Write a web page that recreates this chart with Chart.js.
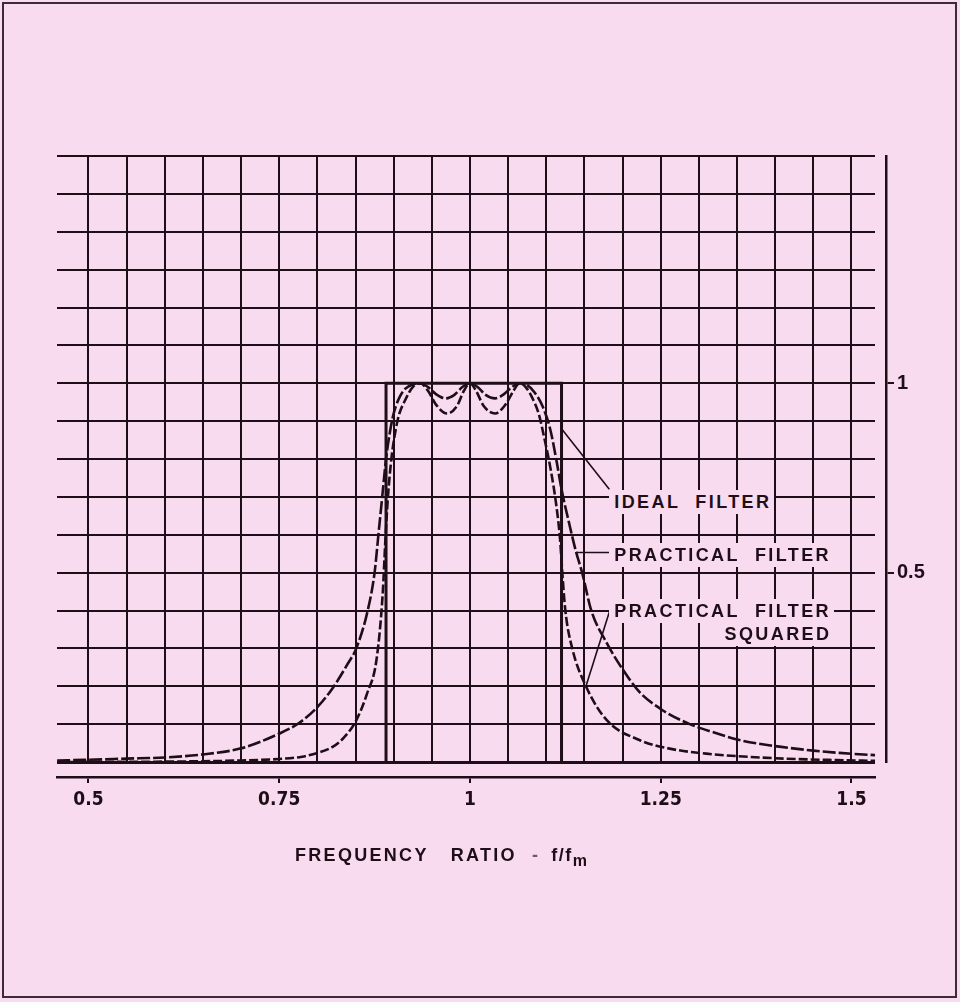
<!DOCTYPE html>
<html>
<head>
<meta charset="utf-8">
<script src="https://cdn.jsdelivr.net/npm/chart.js@4.4.1/dist/chart.umd.min.js"></script>
<style>
html,body{margin:0;padding:0;background:#f9dbef;}
#wrap{position:relative;width:960px;height:1002px;overflow:hidden;background:#f9dbef;}
#frame{position:absolute;left:2px;top:2px;width:951px;height:992px;border:2px solid #3c2a36;pointer-events:none;}
#c{position:absolute;left:0;top:0;}
.lbl{position:absolute;font-family:"Liberation Sans",Arial,sans-serif;font-weight:bold;font-size:18px;letter-spacing:2.4px;word-spacing:8px;color:#1e0e18;background:#f9dbef;line-height:24px;height:24px;padding:0 3px 0 5px;white-space:nowrap;}
#xtitle{position:absolute;left:295px;top:843px;font-family:"Liberation Sans",Arial,sans-serif;font-weight:bold;font-size:18px;letter-spacing:2.3px;line-height:24px;color:#1e0e18;white-space:nowrap;}
#xtitle span{display:inline-block;}
#xtitle sub{font-size:16px;vertical-align:-5px;letter-spacing:0;}
</style>
</head>
<body>
<div id="wrap">
<canvas id="c" width="960" height="1002"></canvas>
<div class="lbl" id="lblIdeal">IDEAL FILTER</div>
<div class="lbl" id="lblPract">PRACTICAL FILTER</div>
<div class="lbl" id="lblSq1">PRACTICAL FILTER</div>
<div class="lbl" id="lblSq2">SQUARED</div>
<div id="xtitle"><span>FREQUENCY</span><span style="margin-left:22px">RATIO</span><span style="margin-left:15px;color:#6b5a66">-</span><span style="margin-left:11px;letter-spacing:1.5px">f/f<sub>m</sub></span></div>
<div id="frame"></div>
</div>
<script>
// ---- data ----
const xGridTicks = [0.5,0.55,0.6,0.65,0.7,0.75,0.8,0.85,0.9,0.95,1.0,1.05,1.1,1.15,1.2,1.25,1.3,1.35,1.4,1.45,1.5];
const yGridTicks = [0,0.1,0.2,0.3,0.4,0.5,0.6,0.7,0.8,0.9,1.0,1.1,1.2,1.3,1.4,1.5,1.6];
const xTickValues = [0.5,0.75,1,1.25,1.5];
const xTickLabels = ['0.5','0.75','1','1.25','1.5'];
const yTickValues = [0.5,1];
const yTickLabels = ['0.5','1'];

const idealX = [0.89,0.89,1.12,1.12];
const idealY = [0,1,1,0];

const practicalX = [0.459,0.50,0.55,0.60,0.65,0.70,0.75,0.776,0.80,0.82,0.84,0.851,0.866,0.875,0.880,0.885,0.890,0.895,0.900,0.907,0.915,0.925,0.935,0.945,0.955,0.968,0.98,0.99,1.0,1.01,1.02,1.033,1.045,1.055,1.065,1.075,1.085,1.095,1.105,1.113,1.12,1.13,1.139,1.147,1.159,1.179,1.2,1.222,1.25,1.288,1.32,1.353,1.4,1.45,1.484,1.531];
const practicalY = [0.004,0.006,0.009,0.012,0.02,0.036,0.075,0.103,0.145,0.195,0.26,0.30,0.40,0.50,0.60,0.70,0.80,0.87,0.92,0.96,0.985,0.997,1.0,0.99,0.972,0.96,0.97,0.99,1.0,0.99,0.97,0.96,0.972,0.99,1.0,0.995,0.975,0.94,0.88,0.80,0.72,0.63,0.555,0.50,0.40,0.315,0.245,0.185,0.14,0.10,0.078,0.058,0.042,0.03,0.024,0.018];

const squaredX = [0.459,0.55,0.60,0.65,0.70,0.75,0.78,0.80,0.82,0.835,0.851,0.865,0.8775,0.8855,0.8895,0.8925,0.897,0.9055,0.915,0.925,0.935,0.945,0.955,0.97,0.983,0.992,1.0,1.008,1.018,1.033,1.047,1.057,1.065,1.073,1.082,1.09,1.098,1.106,1.113,1.118,1.121,1.125,1.134,1.152,1.179,1.222,1.26,1.31,1.4,1.48,1.531];
const squaredY = [0.0,0.0005,0.001,0.002,0.004,0.008,0.014,0.024,0.04,0.065,0.11,0.18,0.27,0.44,0.60,0.70,0.80,0.905,0.955,0.99,1.0,0.98,0.945,0.92,0.94,0.98,1.0,0.98,0.94,0.92,0.945,0.98,1.0,0.99,0.96,0.92,0.85,0.77,0.68,0.59,0.50,0.40,0.30,0.20,0.111,0.058,0.036,0.022,0.010,0.005,0.003];

// leader lines from the curves to the labels
const leaderIdealX = [1.12,1.1826];
const leaderIdealY = [0.88,0.72];
const leaderPractX = [1.139,1.1826];
const leaderPractY = [0.553,0.553];
const leaderSqX = [1.152,1.1848];
const leaderSqY = [0.20,0.41];

// label anchors (data units): left edge / vertical cap centre
const labelAnchors = [
  {id:'lblIdeal', x:1.1826, y:0.687},
  {id:'lblPract', x:1.1826, y:0.547},
  {id:'lblSq1',   x:1.1826, y:0.40},
  {id:'lblSq2',   xr:1.4775, y:0.339}
];

// ---- chart ----
const INK = '#1e0e18';
const X_MIN = 0.4588, X_MAX = 1.5308;
const pts = (xs, ys) => xs.map((x,i)=>({x:x, y:ys[i]}));
Chart.defaults.font.family = "'Liberation Sans', Arial, sans-serif";
Chart.defaults.color = INK;

const lineDs = (data, extra) => Object.assign({
  data: data, borderColor: INK, backgroundColor: INK, borderWidth: 2.6,
  pointRadius: 0, fill: false, tension: 0, xAxisID: 'x', yAxisID: 'y'
}, extra);

const chart = new Chart(document.getElementById('c'), {
  type: 'line',
  data: {
    datasets: [
      lineDs(pts(idealX, idealY), {label:'Ideal filter', borderWidth: 3}),
      lineDs(pts(practicalX, practicalY), {label:'Practical filter', borderDash:[13,3], cubicInterpolationMode:'monotone'}),
      lineDs(pts(squaredX, squaredY), {label:'Practical filter squared', borderDash:[9,3], cubicInterpolationMode:'monotone'}),
      lineDs(pts(leaderIdealX, leaderIdealY), {label:'leader1', borderWidth: 1.6}),
      lineDs(pts(leaderPractX, leaderPractY), {label:'leader2', borderWidth: 1.6}),
      lineDs(pts(leaderSqX, leaderSqY), {label:'leader3', borderWidth: 1.6})
    ]
  },
  options: {
    responsive: false,
    animation: false,
    events: [],
    layout: {padding: {left: 57, top: 156, right: 14, bottom: 175}},
    plugins: {legend: {display: false}, tooltip: {enabled: false}},
    scales: {
      x: {
        type: 'linear', position: 'bottom', min: X_MIN, max: X_MAX, weight: 0,
        afterBuildTicks: s => { s.ticks = xGridTicks.map(v => ({value: v})); },
        afterFit: s => { s.height = 15; },
        ticks: {display: false},
        border: {display: false},
        grid: {color: INK, lineWidth: 2, drawTicks: false, drawOnChartArea: true}
      },
      x2: {
        type: 'linear', position: 'bottom', min: X_MIN, max: X_MAX, weight: 1,
        afterBuildTicks: s => { s.ticks = xTickValues.map(v => ({value: v})); },
        afterFit: s => { s.height = 50; },
        ticks: {
          autoSkip: false, maxRotation: 0, padding: 6, color: INK,
          font: {family: "'Liberation Sans Narrow', 'DejaVu Sans Condensed', 'Liberation Sans', sans-serif", size: 19, weight: 'bold'},
          callback: v => xTickLabels[xTickValues.indexOf(v)]
        },
        border: {display: true, color: INK, width: 2.5},
        grid: {drawOnChartArea: false, drawTicks: true, tickLength: 6, color: INK, lineWidth: 2}
      },
      y: {
        type: 'linear', position: 'right', min: 0, max: 1.6, weight: 0,
        afterBuildTicks: s => { s.ticks = yGridTicks.map(v => ({value: v})); },
        afterFit: s => { s.width = 11; },
        ticks: {display: false},
        border: {display: false},
        grid: {color: INK, lineWidth: c => (c.tick && c.tick.value === 0) ? 3 : 2, drawTicks: false}
      },
      yR: {
        type: 'linear', position: 'right', min: 0, max: 1.6, weight: 1,
        afterBuildTicks: s => { s.ticks = yTickValues.map(v => ({value: v})); },
        afterFit: s => { s.width = 60; },
        ticks: {
          autoSkip: false, padding: 3, color: INK,
          font: {size: 20, weight: 'bold'},
          callback: v => yTickLabels[yTickValues.indexOf(v)]
        },
        border: {display: true, color: INK, width: 2.5},
        grid: {drawOnChartArea: false, drawTicks: true, tickLength: 8, color: INK, lineWidth: 2}
      }
    }
  }
});

// place the HTML labels from the chart's own scales
(function placeLabels(){
  const xs = chart.scales.x, ys = chart.scales.y;
  labelAnchors.forEach(a => {
    const el = document.getElementById(a.id);
    const cy = ys.getPixelForValue(a.y);
    el.style.top = (cy - 11.7) + 'px';
    if (a.x !== undefined) {
      el.style.left = xs.getPixelForValue(a.x) + 'px';
    } else {
      el.style.right = (960 - xs.getPixelForValue(a.xr)) + 'px';
    }
  });
})();
</script>
</body>
</html>
